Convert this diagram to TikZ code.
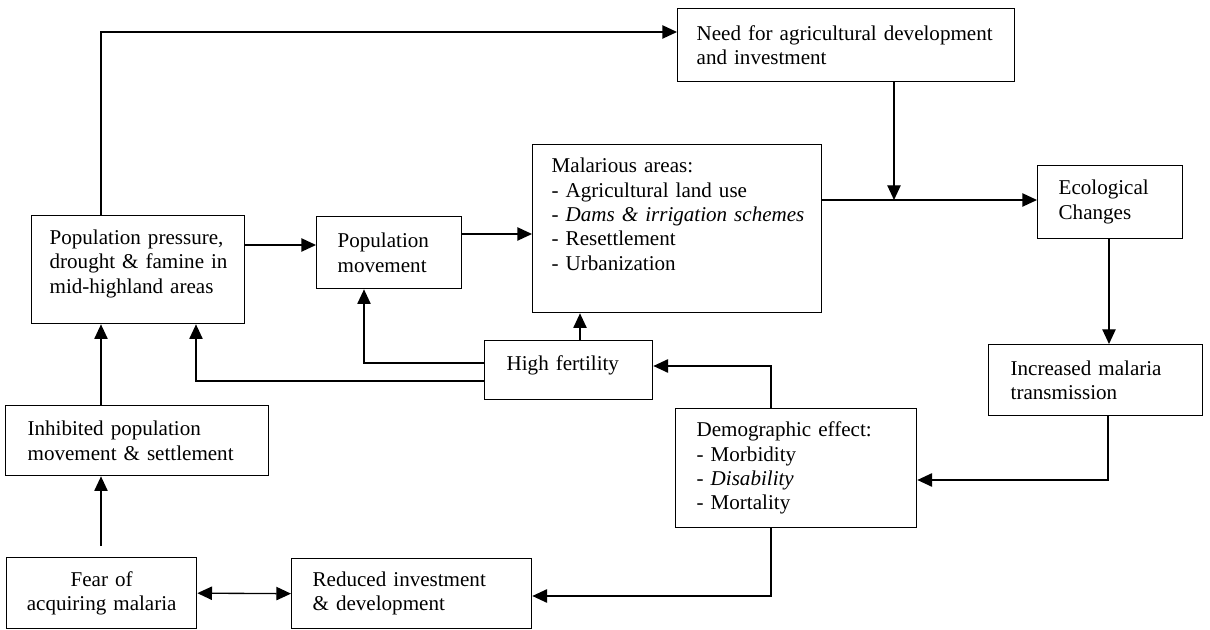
\documentclass[tikz,border=0pt]{standalone}
\usepackage{fontspec}
\setmainfont{Liberation Serif}
\usetikzlibrary{arrows.meta}

\tikzset{
    box/.style={draw, line width=1pt, anchor=north west, inner sep=0pt, align=left,
        font=\fontsize{15.8}{18.3}\selectfont},
    arr/.style={line width=1pt, -{Triangle[length=11pt,width=10pt]}},
    darr/.style={line width=1pt, {Triangle[length=11pt,width=10pt]}-{Triangle[length=11pt,width=10pt]}},
}

\begin{document}
\begin{tikzpicture}[x=0.75pt,y=-0.75pt]
    \useasboundingbox (0,0) rectangle (1210,630);
    \node[box, minimum width=159.75pt, minimum height=81pt, text width=132.75pt, text depth=49pt] (pop) at (31,215)
        {Population pressure,\\ \mbox{drought \& famine in}\\ mid-highland areas};
    \node[box, minimum width=108.75pt, minimum height=54pt, text width=77.25pt] (popmov) at (316,216)
        {Population\\ movement};
    \node[box, minimum width=216.75pt, minimum height=126pt, text width=188.25pt, text depth=95pt] (mal) at (532,144)
        {Malarious areas:\\ - Agricultural land use\\ \mbox{- \textit{Dams \& irrigation schemes}}\\ - Resettlement\\ - Urbanization};
    \node[box, minimum width=252.75pt, minimum height=54.75pt, text width=224.25pt] (need) at (677,8)
        {Need for agricultural development\\ and investment};
    \node[box, minimum width=108.75pt, minimum height=54.75pt, text width=77.25pt] (eco) at (1037,165)
        {Ecological\\ Changes};
    \node[box, minimum width=160.5pt, minimum height=53.25pt, text width=127.5pt] (inc) at (988,344)
        {Increased malaria\\ transmission};
    \node[box, minimum width=126pt, minimum height=44.25pt, text width=93pt, text depth=11pt] (hf) at (484,340)
        {High fertility};
    \node[box, minimum width=180.75pt, minimum height=89.25pt, text width=149.25pt] (demo) at (675,408)
        {Demographic effect:\\ - Morbidity\\ - \textit{Disability}\\ - Mortality};
    \node[box, minimum width=197.25pt, minimum height=52.5pt, text width=164.25pt] (inh) at (5,405)
        {Inhibited population\\ movement \& settlement};
    \node[box, minimum width=142.5pt, minimum height=53.25pt, text width=130pt, align=center] (fear) at (6,557)
        {Fear of\\ acquiring malaria};
    \node[box, minimum width=180pt, minimum height=52.5pt, text width=148.5pt] (red) at (291,558)
        {Reduced investment\\ \& development};
    \coordinate (join) at (894,200);

    \draw[arr] (pop.north -| 101,0) |- (need.west |- 0,32);
    \draw[arr] (pop.east |- 0,245) -- (popmov.west |- 0,245);
    \draw[arr] (popmov.east |- 0,234) -- (mal.west |- 0,234);
    \draw[arr] (mal.east |- join) -- (eco.west |- join);
    \draw[arr] (need.south -| join) -- (join);
    \draw[arr] (eco.south -| 1109,0) -- (inc.north -| 1109,0);
    \draw[arr] (inc.south -| 1108,0) |- (demo.east |- 0,480);
    \draw[arr] (demo.north -| 771,0) |- (hf.east |- 0,366);
    \draw[arr] (demo.south -| 771,0) |- (red.east |- 0,596);
    \draw[arr] (hf.north -| 580,0) -- (mal.south -| 580,0);
    \draw[arr] (hf.west |- 0,363) -| (popmov.south -| 364,0);
    \draw[arr] (hf.west |- 0,381) -| (pop.south -| 196,0);
    \draw[arr] (inh.north -| 101,0) -- (pop.south -| 101,0);
    \draw[arr] (fear.north -| 101,0) ++(0,-11) -- (inh.south -| 101,0);
    \draw[darr] (fear.east) -- (red.west);
\end{tikzpicture}
\end{document}
